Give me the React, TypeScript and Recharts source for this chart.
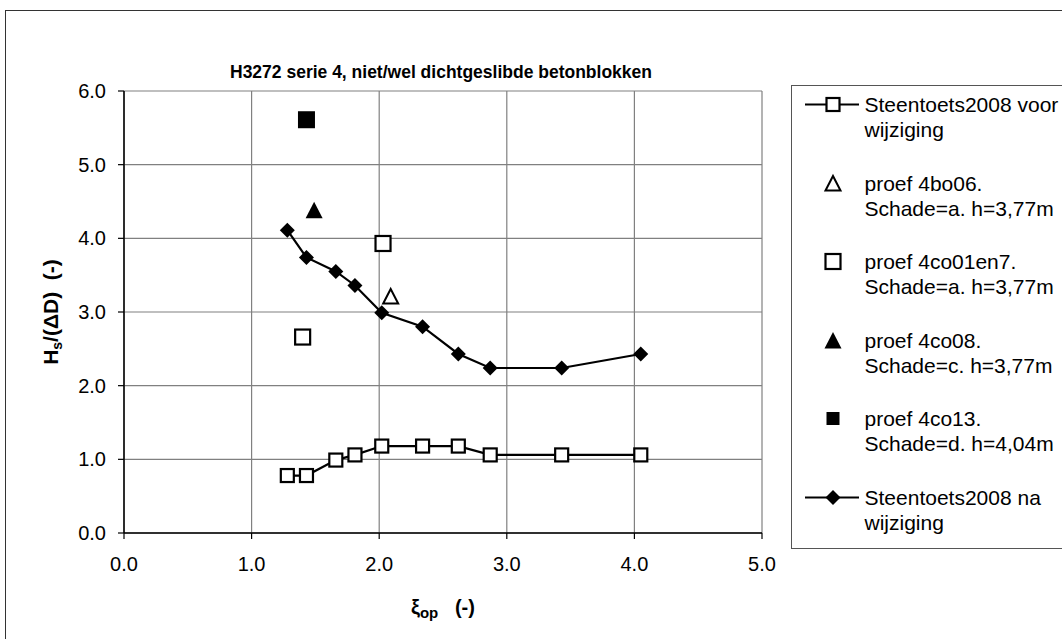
import React from 'react'
import { ScatterChart, Scatter, XAxis, YAxis, CartesianGrid, Legend } from 'recharts'

// xi_op values shared by both Steentoets2008 lines
const xiValues = [1.28, 1.43, 1.66, 1.81, 2.02, 2.34, 2.62, 2.87, 3.43, 4.05]
const voorValues = [0.78, 0.78, 0.99, 1.06, 1.18, 1.18, 1.18, 1.06, 1.06, 1.06]
const naValues = [4.11, 3.74, 3.55, 3.36, 2.99, 2.8, 2.43, 2.24, 2.24, 2.43]

const proef4bo06 = [{ x: 2.09, y: 3.21 }]
const proef4co01en7 = [
  { x: 2.03, y: 3.93 },
  { x: 1.4, y: 2.66 },
]
const proef4co08 = [{ x: 1.49, y: 4.38 }]
const proef4co13 = [{ x: 1.43, y: 5.61 }]

const xTicks = [0, 1, 2, 3, 4, 5]
const yTicks = [0, 1, 2, 3, 4, 5, 6]

const legendLabels = [
  ['Steentoets2008 voor', 'wijziging'],
  ['proef 4bo06.', 'Schade=a. h=3,77m'],
  ['proef 4co01en7.', 'Schade=a. h=3,77m'],
  ['proef 4co08.', 'Schade=c. h=3,77m'],
  ['proef 4co13.', 'Schade=d. h=4,04m'],
  ['Steentoets2008 na', 'wijziging'],
]

const voorData = xiValues.map((x, i) => ({ x, y: voorValues[i] }))
const naData = xiValues.map((x, i) => ({ x, y: naValues[i] }))

const FONT = '"Liberation Sans", Arial, sans-serif'

type Kind = 'lineSquare' | 'openTriangle' | 'openSquare' | 'filledTriangle' | 'filledSquare' | 'diamond'

function Marker({ cx, cy, kind }: { cx: number; cy: number; kind: Kind }) {
  if (cx == null || cy == null) return null
  switch (kind) {
    case 'lineSquare':
      return <rect x={cx - 6.5} y={cy - 6.5} width={13} height={13} fill="#fff" stroke="#000" strokeWidth={2.2} />
    case 'openSquare':
      return <rect x={cx - 7.5} y={cy - 7.5} width={15} height={15} fill="#fff" stroke="#000" strokeWidth={2.2} />
    case 'filledSquare':
      return <rect x={cx - 8.5} y={cy - 8.5} width={17} height={17} fill="#000" />
    case 'openTriangle':
      return (
        <polygon
          points={`${cx},${cy - 7.5} ${cx + 7.5},${cy + 7} ${cx - 7.5},${cy + 7}`}
          fill="#fff"
          stroke="#000"
          strokeWidth={2}
        />
      )
    case 'filledTriangle':
      return <polygon points={`${cx},${cy - 8.5} ${cx + 8.5},${cy + 8} ${cx - 8.5},${cy + 8}`} fill="#000" />
    case 'diamond':
      return <polygon points={`${cx},${cy - 7.5} ${cx + 7.5},${cy} ${cx},${cy + 7.5} ${cx - 7.5},${cy}`} fill="#000" />
  }
  return null
}

const legendKinds: Kind[] = ['lineSquare', 'openTriangle', 'openSquare', 'filledTriangle', 'filledSquare', 'diamond']
const legendHasLine = [true, false, false, false, false, true]

function LegendBox() {
  return (
    <div
      style={{
        width: 275,
        height: 464,
        border: '1.5px solid #555',
        boxSizing: 'border-box',
        background: '#fff',
        fontFamily: FONT,
        fontSize: 21,
        lineHeight: '25px',
        color: '#000',
        position: 'relative',
      }}
    >
      {legendLabels.map((lines, i) => (
        <div key={i} style={{ position: 'absolute', left: 0, top: 6 + i * 78.6, width: 270, height: 50 }}>
          <svg width={75} height={25} style={{ position: 'absolute', left: 0, top: 0 }}>
            {legendHasLine[i] && <line x1={13} x2={67} y1={12.5} y2={12.5} stroke="#000" strokeWidth={2} />}
            {legendKinds[i] === 'filledSquare' ? (
              <rect x={34.5} y={6} width={13} height={13} fill="#000" />
            ) : (
              <Marker cx={41} cy={12.5} kind={legendKinds[i]} />
            )}
          </svg>
          <div style={{ position: 'absolute', left: 72.5, top: 0, whiteSpace: 'pre' }}>
            {lines[0]}
            <br />
            {lines[1]}
          </div>
        </div>
      ))}
    </div>
  )
}

function YLabel() {
  return (
    <text
      x={58}
      y={312}
      transform="rotate(-90 58 312)"
      textAnchor="middle"
      fontFamily={FONT}
      fontWeight="bold"
      fontSize={21}
      fill="#000"
      style={{ whiteSpace: 'pre' }}
    >
      H
      <tspan fontSize={14} dy={4}>
        s
      </tspan>
      <tspan dy={-4}>/(ΔD)  (-)</tspan>
    </text>
  )
}

function XLabel() {
  return (
    <text
      x={443}
      y={614}
      textAnchor="middle"
      fontFamily={FONT}
      fontWeight="bold"
      fontSize={20}
      fill="#000"
      style={{ whiteSpace: 'pre' }}
    >
      ξ
      <tspan fontSize={15} dy={4}>
        op
      </tspan>
      <tspan dy={-4}>   (-)</tspan>
    </text>
  )
}

const tickStyle = { fontFamily: FONT, fontSize: 20, fill: '#000' }

export default function App() {
  return (
    <div style={{ position: 'absolute', left: 0, top: 0, width: 1062, height: 639, overflow: 'hidden', background: '#fff' }}>
      <div
        style={{
          position: 'absolute',
          left: 5,
          top: 10,
          width: 1100,
          height: 700,
          border: '1.5px solid #333',
        }}
      />
      <svg width={1062} height={90} style={{ position: 'absolute', left: 0, top: 0 }}>
        <text
          x={441}
          y={78}
          textAnchor="middle"
          textLength={422}
          lengthAdjust="spacingAndGlyphs"
          fontFamily={FONT}
          fontWeight="bold"
          fontSize={19}
          fill="#000"
        >
          H3272 serie 4, niet/wel dichtgeslibde betonblokken
        </text>
      </svg>
      <div style={{ position: 'absolute', left: 0, top: 0 }}>
        <ScatterChart width={1062} height={639} margin={{ top: 91, right: 300, bottom: 0, left: 64 }}>
          <CartesianGrid stroke="#808080" strokeWidth={1.2} />
          <XAxis
            type="number"
            dataKey="x"
            domain={[0, 5]}
            ticks={xTicks}
            interval={0}
            tickFormatter={(v: number) => v.toFixed(1)}
            height={106}
            tick={tickStyle}
            tickSize={6}
            tickMargin={18}
            axisLine={{ stroke: '#000', strokeWidth: 1.5 }}
            tickLine={{ stroke: '#000', strokeWidth: 1.2 }}
            label={<XLabel />}
          />
          <YAxis
            type="number"
            dataKey="y"
            domain={[0, 6]}
            ticks={yTicks}
            interval={0}
            tickFormatter={(v: number) => v.toFixed(1)}
            width={60}
            tick={tickStyle}
            tickSize={6}
            tickMargin={12}
            axisLine={{ stroke: '#000', strokeWidth: 1.5 }}
            tickLine={{ stroke: '#000', strokeWidth: 1.2 }}
            label={<YLabel />}
          />
          <Legend
            layout="vertical"
            align="center"
            verticalAlign="middle"
            content={() => <LegendBox />}
            wrapperStyle={{ left: 791, top: 85, width: 275, height: 464 }}
          />
          <Scatter
            name="Steentoets2008 voor wijziging"
            data={voorData}
            line={{ stroke: '#000', strokeWidth: 2.2 }}
            shape={(p: any) => <Marker cx={p.cx} cy={p.cy} kind="lineSquare" />}
            isAnimationActive={false}
          />
          <Scatter
            name="proef 4bo06"
            data={proef4bo06}
            shape={(p: any) => <Marker cx={p.cx} cy={p.cy} kind="openTriangle" />}
            isAnimationActive={false}
          />
          <Scatter
            name="proef 4co01en7"
            data={proef4co01en7}
            shape={(p: any) => <Marker cx={p.cx} cy={p.cy} kind="openSquare" />}
            isAnimationActive={false}
          />
          <Scatter
            name="proef 4co08"
            data={proef4co08}
            shape={(p: any) => <Marker cx={p.cx} cy={p.cy} kind="filledTriangle" />}
            isAnimationActive={false}
          />
          <Scatter
            name="proef 4co13"
            data={proef4co13}
            shape={(p: any) => <Marker cx={p.cx} cy={p.cy} kind="filledSquare" />}
            isAnimationActive={false}
          />
          <Scatter
            name="Steentoets2008 na wijziging"
            data={naData}
            line={{ stroke: '#000', strokeWidth: 2.2 }}
            shape={(p: any) => <Marker cx={p.cx} cy={p.cy} kind="diamond" />}
            isAnimationActive={false}
          />
        </ScatterChart>
      </div>
    </div>
  )
}
